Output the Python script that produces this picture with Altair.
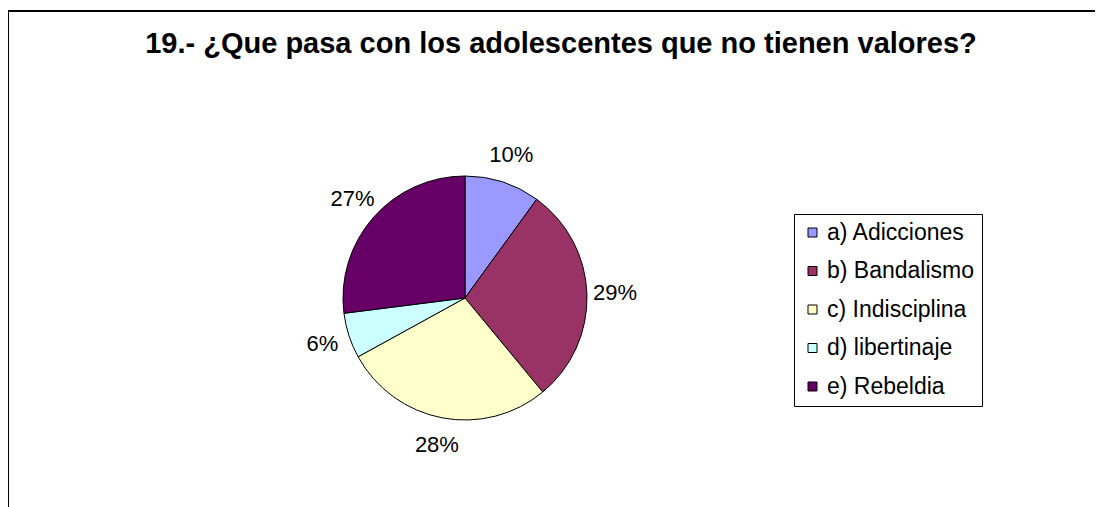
import altair as alt
import pandas as pd

categories = ["a) Adicciones", "b) Bandalismo", "c) Indisciplina", "d) libertinaje", "e) Rebeldia"]
values = [10, 29, 28, 6, 27]
labels = ["10%", "29%", "28%", "6%", "27%"]
colors = ["#9999FF", "#993366", "#FFFFCC", "#CCFFFF", "#660066"]
title_text = "19.- ¿Que pasa con los adolescentes que no tienen valores?"

df = pd.DataFrame({"cat": categories, "val": values, "label": labels, "ord": list(range(len(categories)))})
title_df = pd.DataFrame({"t": [title_text]})

FONT = "Liberation Sans"
W, H = 1087, 500
CX, CY = 457, 287

base = alt.Chart(df).encode(
    theta=alt.Theta("val:Q", stack=True),
    order=alt.Order("ord:Q", sort="ascending"),
)

pie = base.mark_arc(stroke="black", strokeWidth=1, radius=122, opacity=1).encode(
    color=alt.Color(
        "cat:N",
        scale=alt.Scale(domain=categories, range=colors),
        legend=alt.Legend(
            title=None,
            orient="none",
            legendX=786,
            legendY=203,
            strokeColor="black",
            fillColor="white",
            padding=7,
            symbolType="square",
            symbolSize=81,
            symbolStrokeColor="black",
            symbolStrokeWidth=1,
            symbolOpacity=1,
            labelFont=FONT,
            labelFontSize=23,
            labelColor="black",
            labelOffset=3,
            rowPadding=14.5,
            labelLimit=400,
        ),
    ),
    x=alt.value(CX),
    y=alt.value(CY),
)

text = base.mark_text(radius=150, font=FONT, fontSize=22, color="black", baseline="middle", align="center").encode(
    text="label:N",
    x=alt.value(CX),
    y=alt.value(CY),
)

title = alt.Chart(title_df).mark_text(
    font=FONT, fontSize=29, fontWeight="bold", color="black", align="center", baseline="alphabetic"
).encode(text="t:N", x=alt.value(553), y=alt.value(42))

frame_top = alt.Chart(title_df).mark_rule(color="black", strokeWidth=2).encode(
    x=alt.value(0), x2=alt.value(W), y=alt.value(0)
)
frame_left = alt.Chart(title_df).mark_rule(color="black", strokeWidth=2).encode(
    x=alt.value(0), y=alt.value(0), y2=alt.value(H)
)

chart = (
    alt.layer(frame_top, frame_left, pie, text, title)
    .properties(
        width=W,
        height=H,
        autosize=alt.AutoSizeParams(type="none"),
        padding={"left": 0, "top": 3, "right": 0, "bottom": 0},
    )
    .configure(background="white", view=alt.ViewConfig(stroke=None))
)

chart.save("out.html", embed_options={"renderer": "svg", "actions": False})
